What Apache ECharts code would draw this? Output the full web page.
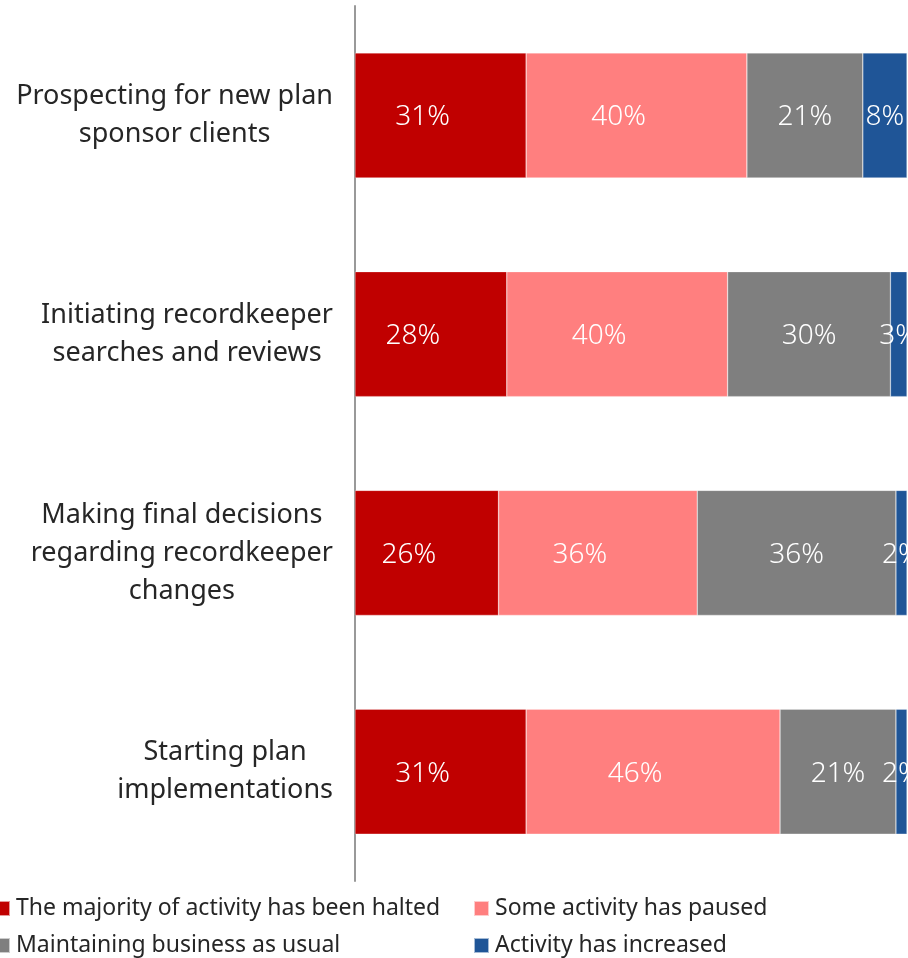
<!DOCTYPE html>
<html>
<head>
<meta charset="utf-8">
<script src="https://cdn.jsdelivr.net/npm/echarts@6/dist/echarts.min.js"></script>
<style>
  html, body { margin: 0; padding: 0; background: #fff; }
  #main { width: 908px; height: 958px; }
</style>
</head>
<body>
<div id="main"></div>
<script>
/* categories, top to bottom */
var categories = [
	'Prospecting for new plan\nsponsor clients',
	'Initiating recordkeeper\nsearches and reviews',
	'Making final decisions\nregarding recordkeeper\nchanges',
	'Starting plan\nimplementations'
];

/* series values (%) */
var series_names = [
	'The majority of activity has been halted',
	'Some activity has paused',
	'Maintaining business as usual',
	'Activity has increased'
];
var halted = [31, 27.5, 26, 31];
var paused = [40, 40, 36, 46];
var usual = [21, 29.5, 36, 21];
var increased = [8, 3, 2, 2];

var series_data = [halted, paused, usual, increased];
var item_color_arr = ['#C00000', '#FF7F7F', '#7F7F7F', '#1F5597'];
var label_offset = [[-18, 2], [-18, 2], [0, 2], [0, 2]];

var font = 'Noto Sans';

function getSeries() {
	var arr = [];
	for (var i = 0; i < series_data.length; i++) {
		arr.push({
			name: series_names[i],
			type: 'bar',
			stack: 'total',
			barWidth: 125,
			data: series_data[i],
			itemStyle: {
				color: item_color_arr[i],
				borderColor: 'rgba(255,255,255,0.6)',
				borderWidth: 0.5
			},
			label: {
				show: true,
				position: 'inside',
				offset: label_offset[i],
				color: '#fff',
				fontFamily: font,
				fontSize: 28,
				fontWeight: 300,
				formatter: function (p) {
					return Math.round(p.value) + '%';
				}
			}
		});
	}
	return arr;
}

/* legend: 2 x 2, one component per item */
var legend_pos = [
	{ left: -6, top: 897 },
	{ left: 473, top: 897 },
	{ left: -6, top: 934 },
	{ left: 473, top: 934 }
];
function getLegend() {
	var arr = [];
	for (var i = 0; i < series_names.length; i++) {
		arr.push({
			data: [series_names[i]],
			left: legend_pos[i].left,
			top: legend_pos[i].top,
			icon: 'rect',
			itemWidth: 15,
			itemHeight: 15,
			padding: 0,
			textStyle: {
				fontFamily: font,
				fontSize: 23,
				color: '#262626',
				padding: [0, 0, 0, 1]
			}
		});
	}
	return arr;
}

var chart = echarts.init(document.getElementById('main'));
chart.setOption({
	animation: false,
	grid: { left: 355, right: 1, top: 6, bottom: 77, containLabel: false },
	xAxis: {
		type: 'value',
		min: 0,
		max: 100,
		show: false
	},
	yAxis: {
		type: 'category',
		inverse: true,
		data: categories,
		axisLine: { show: true, lineStyle: { color: '#999', width: 2 } },
		axisTick: { show: false },
		splitLine: { show: false },
		axisLabel: {
			margin: 22,
			align: 'right',
			formatter: function (v) {
				return v.split('\n').map(function (l) { return '{c|' + l + '}'; }).join('\n');
			},
			rich: {
				c: {
					align: 'center',
					fontFamily: font,
					fontSize: 27,
					lineHeight: 38,
					color: '#262626'
				}
			}
		}
	},
	legend: getLegend(),
	series: getSeries()
});
</script>
</body>
</html>
